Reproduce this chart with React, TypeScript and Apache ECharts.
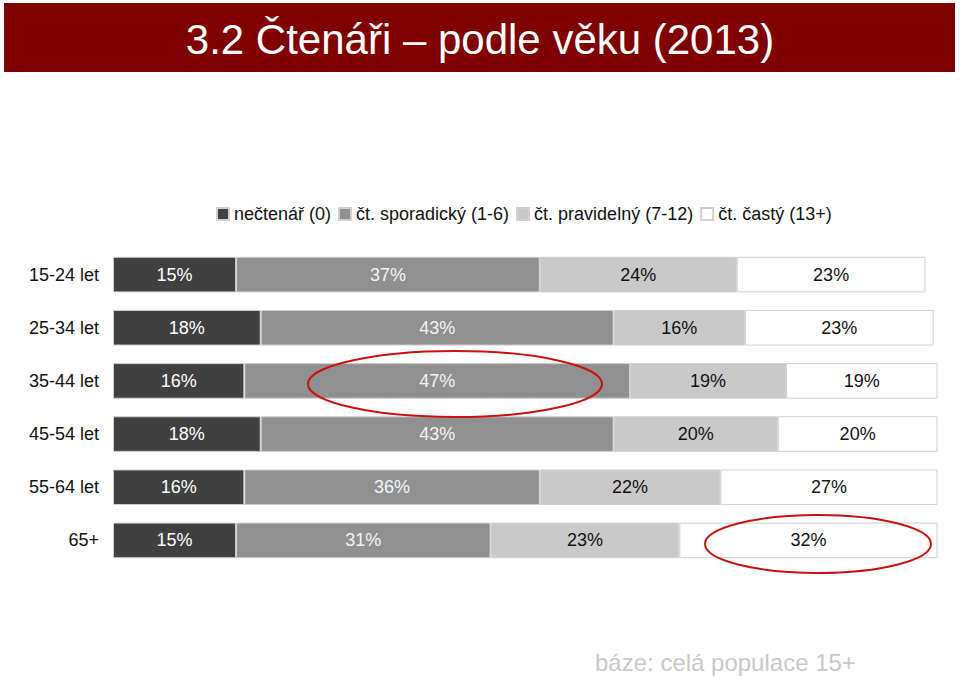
import { useEffect, useRef } from 'react'
import * as echarts from 'echarts'

// kategorie (věkové skupiny) a podíly čtenářů v %
const ageGroups = ['15-24 let', '25-34 let', '35-44 let', '45-54 let', '55-64 let', '65+']
const seriesNames = ['nečtenář (0)', 'čt. sporadický (1-6)', 'čt. pravidelný (7-12)', 'čt. častý (13+)']
const nonReaders = [15, 18, 16, 18, 16, 15]
const sporadic = [37, 43, 47, 43, 36, 31]
const regular = [24, 16, 19, 20, 22, 23]
const frequent = [23, 23, 19, 20, 27, 32]

const colors = ['#404040', '#909090', '#c9c9c9', '#ffffff']
const labelColors = ['#ffffff', '#f4f4f4', '#111111', '#111111']
const font = 'Liberation Sans, Arial, sans-serif'

export default function App() {
  const chartRef = useRef<HTMLDivElement>(null)

  useEffect(() => {
    if (!chartRef.current) return
    const chart = echarts.init(chartRef.current, null, { renderer: 'svg' })

    const values = [nonReaders, sporadic, regular, frequent]

    const option = {
      animation: false,
      textStyle: { fontFamily: font },
      title: {
        text: '3.2 Čtenáři – podle věku (2013)',
        left: 'center',
        top: 13,
        textStyle: {
          color: '#ffffff',
          fontSize: 42,
          fontWeight: 'normal',
          fontFamily: font
        }
      },
      legend: {
        data: seriesNames,
        left: 211,
        top: 200,
        itemWidth: 12,
        itemHeight: 12,
        itemGap: 7,
        icon: 'rect',
        textStyle: { fontSize: 18, color: '#111111' }
      },
      grid: {
        left: 113,
        right: 23,
        top: 248,
        bottom: 111
      },
      xAxis: {
        type: 'value',
        min: 0,
        max: 100.4,
        show: false
      },
      yAxis: {
        type: 'category',
        data: ageGroups,
        inverse: true,
        axisLine: { show: false },
        axisTick: { show: false },
        splitLine: { show: false },
        axisLabel: { fontSize: 18, color: '#111111', margin: 14 }
      },
      series: values.map((data, i) => ({
        name: seriesNames[i],
        type: 'bar',
        stack: 'total',
        barWidth: '67%',
        data,
        itemStyle: {
          color: colors[i],
          borderColor: '#d0d0d0',
          borderWidth: 1
        },
        label: {
          show: true,
          position: 'inside',
          formatter: '{c}%',
          fontSize: 18,
          color: labelColors[i]
        }
      })),
      graphic: [
        {
          type: 'rect',
          z: -1,
          shape: { x: 4, y: 3, width: 951, height: 69 },
          style: { fill: '#800000' }
        },
        {
          type: 'ellipse',
          z: 100,
          shape: { cx: 455, cy: 384, rx: 147, ry: 33 },
          style: { fill: 'none', stroke: '#cc1010', lineWidth: 2 }
        },
        {
          type: 'ellipse',
          z: 100,
          shape: { cx: 818, cy: 544, rx: 113, ry: 29 },
          style: { fill: 'none', stroke: '#cc1010', lineWidth: 2 }
        },
        {
          type: 'text',
          left: 595,
          top: 650,
          style: {
            text: 'báze: celá populace 15+',
            fontSize: 24,
            fill: '#c8c8c8',
            fontFamily: font
          }
        }
      ]
    }

    chart.setOption(option)

    return () => {
      chart.dispose()
    }
  }, [])

  return (
    <div
      ref={chartRef}
      style={{ position: 'fixed', left: 0, top: 0, width: 960, height: 678, background: '#ffffff' }}
    />
  )
}
